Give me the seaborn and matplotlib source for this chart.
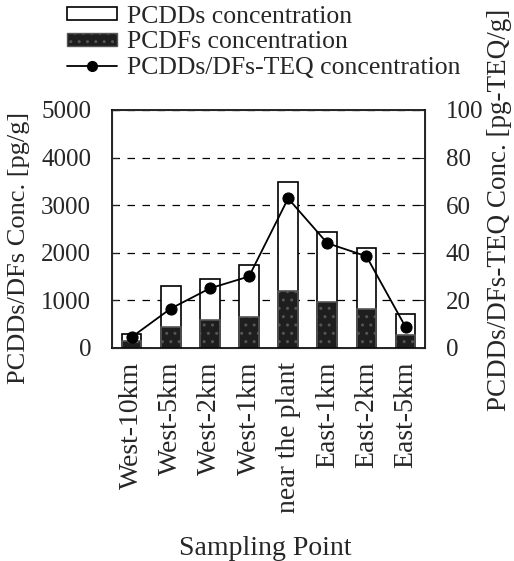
import matplotlib
matplotlib.use("Agg")
import matplotlib.pyplot as plt
import numpy as np
import pandas as pd
import seaborn as sns
from matplotlib.lines import Line2D
from matplotlib.patches import Patch

points = ["West-10km", "West-5km", "West-2km", "West-1km", "near the plant",
          "East-1km", "East-2km", "East-5km"]
total_conc = [300, 1300, 1440, 1740, 3490, 2440, 2090, 705]
pcdfs_conc = [150, 440, 580, 650, 1190, 965, 825, 263]
teq_conc = [4.5, 16.5, 25, 30, 62.8, 44, 38.5, 8.8]

sns.set_style("white")
plt.rcParams["font.family"] = ["Liberation Serif", "DejaVu Serif"]

df = pd.DataFrame({"point": points, "total": total_conc, "pcdfs": pcdfs_conc, "teq": teq_conc})

fig = plt.figure(figsize=(5.14, 5.61), dpi=100)
ax = fig.add_axes([0.218, 0.380, 0.609, 0.424])

# stacked bars: white total behind, dark PCDFs at the bottom
sns.barplot(data=df, x="point", y="total", color="white", edgecolor="black",
            linewidth=1.2, width=0.5, ax=ax)
sns.barplot(data=df, x="point", y="pcdfs", color="#1e1e1e", edgecolor="black",
            linewidth=1.2, width=0.5, ax=ax)
for p in ax.patches[len(points):]:
    p.set_facecolor("#1e1e1e")
    p.set_edgecolor("#555555")
    p.set_hatch("..")

ax.set_ylim(0, 5000)
ax.set_xlim(-0.5, len(points) - 0.5)
ax.set_yticks(np.arange(0, 5001, 1000))
ax.yaxis.grid(True, linestyle=(0, (6, 6)), color="black", linewidth=0.9)
ax.set_axisbelow(True)
ax.tick_params(axis="y", labelsize=18, direction="in", length=4, pad=15)
ax.set_xticks(np.arange(len(points)))
ax.tick_params(axis="x", labelsize=20, rotation=90, length=0, pad=10)
ax.set_xticks(np.arange(len(points)) + 0.5, minor=True)
ax.tick_params(axis="x", which="minor", direction="in", length=4)
ax.set_xlabel("Sampling Point", fontsize=20)
ax.xaxis.set_label_coords(0.49, -0.79)
ax.set_ylabel("PCDDs/DFs Conc. [pg/g]", fontsize=19)
ax.yaxis.set_label_coords(-0.262, 0.42)
for s in ax.spines.values():
    s.set_color("black")
    s.set_linewidth(1.2)

ax2 = ax.twinx()
sns.lineplot(x=np.arange(len(points)), y=df["teq"], color="black", marker="o",
             markersize=8, linewidth=1.3, markeredgecolor="black", ax=ax2)
ax2.set_ylim(0, 100)
ax2.set_yticks(np.arange(0, 101, 20))
ax2.tick_params(axis="y", labelsize=18, direction="in", length=4, pad=15)
ax2.set_ylabel("PCDDs/DFs-TEQ Conc. [pg-TEQ/g]", fontsize=19.5)
ax2.yaxis.set_label_coords(1.198, 0.58)

handles = [
    Patch(facecolor="white", edgecolor="black", linewidth=1.2),
    Patch(facecolor="#1e1e1e", edgecolor="#555555", hatch=".."),
    Line2D([0], [0], color="black", marker="o", markersize=7, linewidth=1.3),
]
labels = ["PCDDs concentration", "PCDFs concentration", "PCDDs/DFs-TEQ concentration"]
fig.legend(handles, labels, loc="upper left", bbox_to_anchor=(0.11, 1.008),
           frameon=False, fontsize=18.5, handlelength=1.95, handleheight=0.4,
           labelspacing=0.14, handletextpad=0.4, borderaxespad=0)

fig.savefig("out.png", dpi=100)
